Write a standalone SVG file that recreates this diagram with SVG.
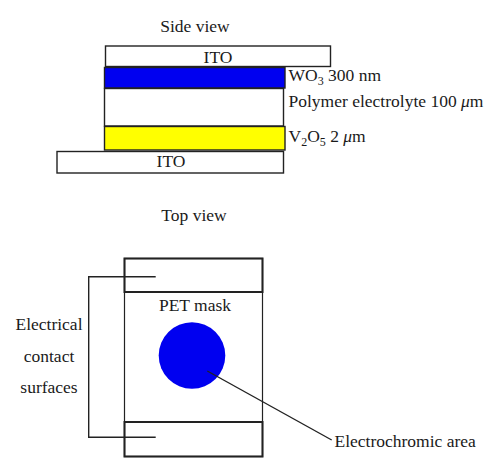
<svg xmlns="http://www.w3.org/2000/svg" width="500" height="474" viewBox="0 0 500 474">
<style>
text{font-family:"Liberation Serif","Times New Roman",serif;font-size:17.5px;fill:#1a1a1a}
.lay{stroke:#222;stroke-width:1.4}
.thick{fill:none;stroke:#222;stroke-width:2}
.thin{fill:none;stroke:#222;stroke-width:1.2}
.conn{fill:none;stroke:#222;stroke-width:1.4}
</style>
<rect width="500" height="474" fill="#fff"/>
<g id="side-view">
<text x="195" y="32" text-anchor="middle">Side view</text>
<g id="ito-top"><rect class="lay" x="105.5" y="46" width="225" height="20.5" fill="#fff"/><text x="218" y="63" text-anchor="middle">ITO</text></g>
<g id="wo3"><rect class="lay" x="104.5" y="67.5" width="180.5" height="20.5" fill="#0000f0"/><text x="288.5" y="80.5">WO<tspan font-size="12" dy="4">3</tspan><tspan dy="-4"> 300 nm</tspan></text></g>
<g id="polymer"><rect class="lay" x="104.5" y="88.5" width="179" height="37.5" fill="#fff"/><text x="288.5" y="106.5">Polymer electrolyte 100 <tspan font-style="italic">μ</tspan>m</text></g>
<g id="v2o5"><rect class="lay" x="104.5" y="126.5" width="180.5" height="23.5" fill="#ffff00"/><text x="288.5" y="141.5">V<tspan font-size="12" dy="4">2</tspan><tspan dy="-4">O</tspan><tspan font-size="12" dy="4">5</tspan><tspan dy="-4"> 2 </tspan><tspan font-style="italic">μ</tspan>m</text></g>
<g id="ito-bottom"><rect class="lay" x="57" y="151.5" width="226.5" height="21.5" fill="#fff"/><text x="171" y="167" text-anchor="middle">ITO</text></g>
</g>
<g id="top-view">
<text x="194" y="221" text-anchor="middle">Top view</text>
<g id="pet-mask"><rect class="thin" x="124.5" y="258.5" width="138" height="198"/><text x="195" y="311" text-anchor="middle">PET mask</text></g>
<g id="contact-top"><rect class="thick" x="124.5" y="258.5" width="138" height="33.5"/></g>
<g id="contact-bottom"><rect class="thick" x="124.5" y="422" width="138" height="34.5"/></g>
<g id="ec-area"><circle cx="192" cy="355.5" r="33.3" fill="#0000f0"/></g>
<g id="label-contacts"><text x="49" y="330" text-anchor="middle">Electrical</text><text x="49" y="361.5" text-anchor="middle">contact</text><text x="49" y="393" text-anchor="middle">surfaces</text></g>
<g id="label-ec"><text x="334.5" y="447">Electrochromic area</text></g>
</g>
<g id="connectors">
<path class="conn" d="M155.7,276.7 H88.7 V437.3 H155.7"/>
<path class="conn" d="M207.3,371 L331.7,440"/>
</g>
</svg>
